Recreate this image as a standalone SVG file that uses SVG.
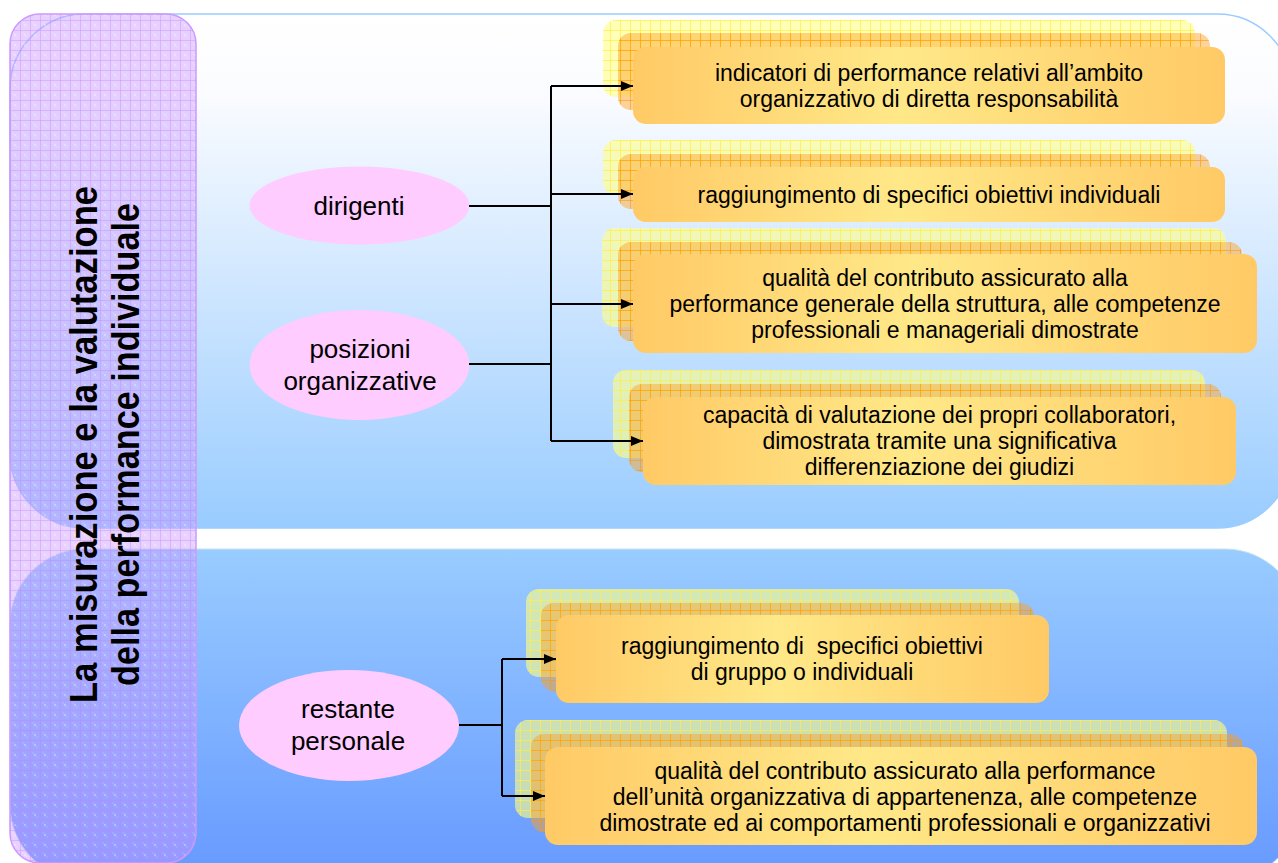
<svg xmlns="http://www.w3.org/2000/svg" width="1278" height="863" viewBox="0 0 1278 863">
<style>
.t{font-family:"Liberation Sans",Arial,sans-serif;fill:#000;text-anchor:middle}
.bx{font-size:23px}
.el{font-size:26px}
.ttl{font-size:39px;font-weight:bold}
.conn{fill:none;stroke:#000;stroke-width:2}
.ell{fill:#ffccff}
.back{fill:#ffff88;fill-opacity:0.6}
.backg{fill:url(#yGrid)}
.mid{fill:#ffa020;fill-opacity:0.45}
.midg{fill:url(#oGrid)}
.front{fill:url(#frontGrad)}
</style>
<defs>
<linearGradient id="topBg" x1="0" y1="0" x2="0" y2="1">
<stop offset="0" stop-color="#ffffff"/>
<stop offset="0.15" stop-color="#fbfcff"/>
<stop offset="1" stop-color="#99ccff"/>
</linearGradient>
<linearGradient id="botBg" x1="0" y1="0" x2="0" y2="1">
<stop offset="0" stop-color="#99ccff"/>
<stop offset="1" stop-color="#6699ff"/>
</linearGradient>
<linearGradient id="frontGrad" x1="0" y1="0" x2="1" y2="0">
<stop offset="0" stop-color="#ffca66"/>
<stop offset="0.45" stop-color="#ffe888"/>
<stop offset="1" stop-color="#ffca66"/>
</linearGradient>
<pattern id="pGrid" width="10" height="10" patternUnits="userSpaceOnUse">
<path d="M0,0.5H10M0.5,0V10" stroke="#c080ff" stroke-opacity="0.35" stroke-width="1"/>
<circle cx="5" cy="5" r="1.2" fill="#ffffff" fill-opacity="0.3"/>
<circle cx="3" cy="3" r="0.8" fill="#ffffff" fill-opacity="0.2"/>
<circle cx="7" cy="7" r="0.8" fill="#ffffff" fill-opacity="0.2"/>
</pattern>
<pattern id="yGrid" width="10" height="10" patternUnits="userSpaceOnUse">
<path d="M0,0.5H10M0.5,0V10" stroke="#ffee44" stroke-opacity="0.7" stroke-width="1"/>
</pattern>
<pattern id="oGrid" width="10" height="10" patternUnits="userSpaceOnUse">
<path d="M0,0.5H10M0.5,0V10" stroke="#ff9900" stroke-opacity="0.6" stroke-width="1"/>
</pattern>
<marker id="arr" markerUnits="userSpaceOnUse" markerWidth="12" markerHeight="10" refX="12" refY="5" orient="auto">
<path d="M0,0L12,5L0,10z" fill="#000"/>
</marker>
</defs>

<g id="backgrounds">
<rect x="10" y="14" width="1282" height="514" rx="75" ry="75" fill="url(#topBg)" stroke="#99ccff" stroke-width="1.5"/>
<rect x="10" y="549" width="1290" height="331" rx="75" ry="75" fill="url(#botBg)" stroke="#c4e4ee" stroke-width="1"/>
</g>

<g id="title-bar">
<rect x="10" y="14" width="186" height="849" rx="30" ry="30" fill="#cc99ff" fill-opacity="0.45"/>
<rect x="10" y="14" width="186" height="849" rx="30" ry="30" fill="url(#pGrid)" stroke="#cc99ff" stroke-width="1.5"/>
<g transform="translate(97,444.5) rotate(-90)">
<text class="t ttl" x="0" y="0" textLength="517" lengthAdjust="spacingAndGlyphs">La misurazione e la valutazione</text>
<text class="t ttl" x="0" y="42" textLength="483" lengthAdjust="spacingAndGlyphs">della performance individuale</text>
</g>
</g>

<g id="node-dirigenti">
<ellipse class="ell" cx="359.5" cy="205.5" rx="110" ry="39"/>
<text class="t el" x="359" y="215">dirigenti</text>
</g>
<g id="node-posizioni">
<ellipse class="ell" cx="359.5" cy="365" rx="110" ry="55"/>
<text class="t el" x="360" y="358">posizioni</text>
<text class="t el" x="360" y="390">organizzative</text>
</g>
<g id="node-restante">
<ellipse class="ell" cx="349" cy="725.5" rx="110" ry="55.5"/>
<text class="t el" x="348" y="718">restante</text>
<text class="t el" x="348" y="750">personale</text>
</g>

<g id="box-1">
<rect class="back" x="603" y="20" width="592" height="77" rx="13"/>
<rect class="backg" x="603" y="20" width="592" height="77" rx="13"/>
<rect class="mid" x="618" y="33" width="592" height="77" rx="13"/>
<rect class="midg" x="618" y="33" width="592" height="77" rx="13"/>
<rect class="front" x="633" y="47" width="592" height="77" rx="13"/>
<text class="t bx" x="929" y="80.5">indicatori di performance relativi all’ambito</text>
<text class="t bx" x="929" y="106.5">organizzativo di diretta responsabilità</text>
</g>
<g id="box-2">
<rect class="back" x="603" y="140" width="592" height="55" rx="13"/>
<rect class="backg" x="603" y="140" width="592" height="55" rx="13"/>
<rect class="mid" x="618" y="154" width="592" height="55" rx="13"/>
<rect class="midg" x="618" y="154" width="592" height="55" rx="13"/>
<rect class="front" x="633" y="167" width="592" height="55" rx="13"/>
<text class="t bx" x="929" y="202.5">raggiungimento di specifici obiettivi individuali</text>
</g>
<g id="box-3">
<rect class="back" x="602" y="228" width="624" height="99" rx="13"/>
<rect class="backg" x="602" y="228" width="624" height="99" rx="13"/>
<rect class="mid" x="618" y="242" width="624" height="99" rx="13"/>
<rect class="midg" x="618" y="242" width="624" height="99" rx="13"/>
<rect class="front" x="633" y="254" width="624" height="99" rx="13"/>
<text class="t bx" x="945" y="285.5">qualità del contributo assicurato alla</text>
<text class="t bx" x="945" y="311.5">performance generale della struttura, alle competenze</text>
<text class="t bx" x="945" y="337.5">professionali e manageriali dimostrate</text>
</g>
<g id="box-4">
<rect class="back" x="613" y="370" width="592" height="88" rx="13"/>
<rect class="backg" x="613" y="370" width="592" height="88" rx="13"/>
<rect class="mid" x="629" y="384" width="592" height="88" rx="13"/>
<rect class="midg" x="629" y="384" width="592" height="88" rx="13"/>
<rect class="front" x="643" y="397" width="593" height="88" rx="13"/>
<text class="t bx" x="939.5" y="423">capacità di valutazione dei propri collaboratori,</text>
<text class="t bx" x="939.5" y="449">dimostrata tramite una significativa</text>
<text class="t bx" x="939.5" y="475">differenziazione dei giudizi</text>
</g>
<g id="box-5">
<rect class="back" x="526" y="589" width="493" height="88" rx="13"/>
<rect class="backg" x="526" y="589" width="493" height="88" rx="13"/>
<rect class="mid" x="541" y="603" width="493" height="88" rx="13"/>
<rect class="midg" x="541" y="603" width="493" height="88" rx="13"/>
<rect class="front" x="556" y="615" width="493" height="88" rx="13"/>
<text class="t bx" x="802" y="654" xml:space="preserve">raggiungimento di  specifici obiettivi</text>
<text class="t bx" x="802" y="680">di gruppo o individuali</text>
</g>
<g id="box-6">
<rect class="back" x="515" y="720" width="712" height="98" rx="13"/>
<rect class="backg" x="515" y="720" width="712" height="98" rx="13"/>
<rect class="mid" x="531" y="734" width="712" height="98" rx="13"/>
<rect class="midg" x="531" y="734" width="712" height="98" rx="13"/>
<rect class="front" x="545" y="747" width="712" height="98" rx="13"/>
<text class="t bx" x="905" y="779">qualità del contributo assicurato alla performance</text>
<text class="t bx" x="905" y="805">dell’unità organizzativa di appartenenza, alle competenze</text>
<text class="t bx" x="905" y="831">dimostrate ed ai comportamenti professionali e organizzativi</text>
</g>

<g id="connectors">
<path class="conn" d="M469,206H551"/>
<path class="conn" d="M469,364H551"/>
<path class="conn" d="M551,86V441"/>
<path class="conn" d="M551,86H633" marker-end="url(#arr)"/>
<path class="conn" d="M551,194H633" marker-end="url(#arr)"/>
<path class="conn" d="M551,304H633" marker-end="url(#arr)"/>
<path class="conn" d="M551,441H643" marker-end="url(#arr)"/>
<path class="conn" d="M459,725H502"/>
<path class="conn" d="M502,659V796"/>
<path class="conn" d="M502,659H556" marker-end="url(#arr)"/>
<path class="conn" d="M502,796H545" marker-end="url(#arr)"/>
</g>
</svg>
